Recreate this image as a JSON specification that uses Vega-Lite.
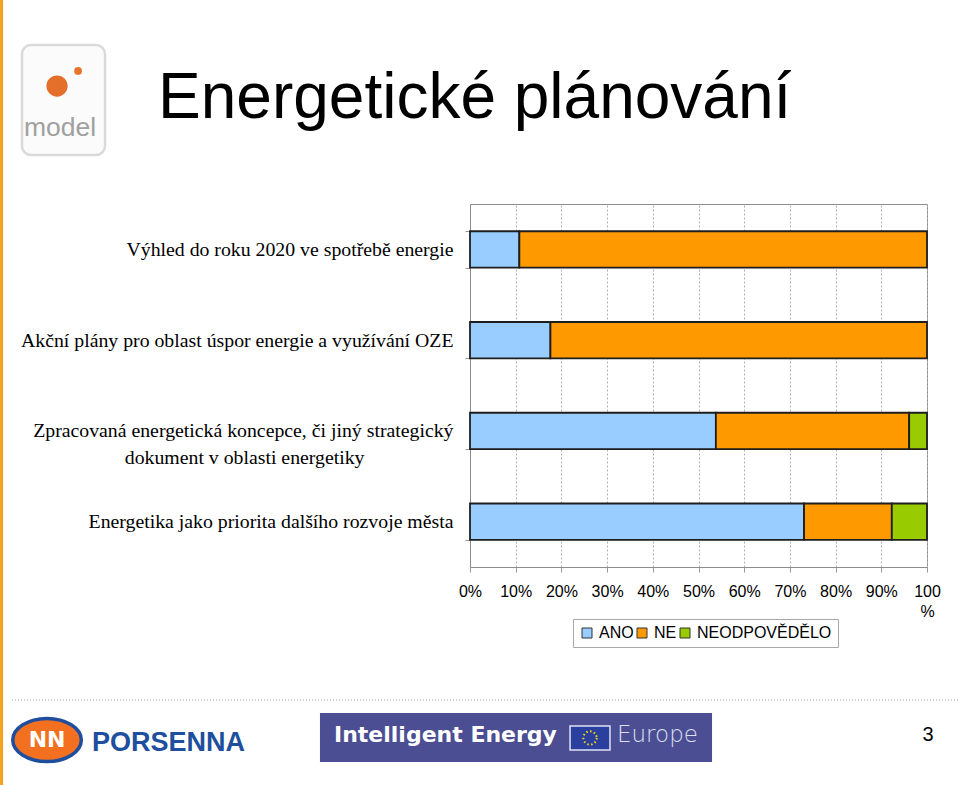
{
  "$schema": "https://vega.github.io/schema/vega-lite/v6.json",
  "width": 457,
  "height": 363,
  "autosize": {"type": "none"},
  "padding": {"left": 470, "top": 204, "right": 33, "bottom": 218},
  "background": "white",
  "config": {"view": {"stroke": "#8c8c8c", "strokeWidth": 1}},
  "resolve": {"scale": {"x": "independent", "y": "independent"}, "axis": {"x": "independent", "y": "independent"}},
  "layer": [
    {
      "data": {
        "values": [
          {"kategorie": "Výhled do roku 2020 ve spotřebě energie", "odpoved": "ANO", "podil": 10.8},
          {"kategorie": "Výhled do roku 2020 ve spotřebě energie", "odpoved": "NE", "podil": 89.2},
          {"kategorie": "Akční plány pro oblast úspor energie a využívání OZE", "odpoved": "ANO", "podil": 17.6},
          {"kategorie": "Akční plány pro oblast úspor energie a využívání OZE", "odpoved": "NE", "podil": 82.4},
          {"kategorie": "Zpracovaná energetická koncepce, či jiný strategický dokument v oblasti energetiky", "odpoved": "ANO", "podil": 53.8},
          {"kategorie": "Zpracovaná energetická koncepce, či jiný strategický dokument v oblasti energetiky", "odpoved": "NE", "podil": 42.3},
          {"kategorie": "Zpracovaná energetická koncepce, či jiný strategický dokument v oblasti energetiky", "odpoved": "NEODPOVĚDĚLO", "podil": 3.9},
          {"kategorie": "Energetika jako priorita dalšího rozvoje města", "odpoved": "ANO", "podil": 73.1},
          {"kategorie": "Energetika jako priorita dalšího rozvoje města", "odpoved": "NE", "podil": 19.2},
          {"kategorie": "Energetika jako priorita dalšího rozvoje města", "odpoved": "NEODPOVĚDĚLO", "podil": 7.7}
        ]
      },
      "mark": {"type": "bar", "stroke": "#1e1e1e", "strokeWidth": 1.8},
      "encoding": {
        "y": {
          "field": "kategorie",
          "type": "nominal",
          "sort": [
            "Výhled do roku 2020 ve spotřebě energie",
            "Akční plány pro oblast úspor energie a využívání OZE",
            "Zpracovaná energetická koncepce, či jiný strategický dokument v oblasti energetiky",
            "Energetika jako priorita dalšího rozvoje města"
          ],
          "scale": {"paddingInner": 0.6, "paddingOuter": 0.3},
          "axis": {
            "title": null,
            "labelFont": "Liberation Serif",
            "labelFontSize": 19.8,
            "labelColor": "#000000",
            "labelLimit": 0,
            "labelPadding": 12,
            "labelLineHeight": 27,
            "tickBand": "extent",
            "tickSize": 5,
            "tickColor": "#9a9a9a",
            "domainColor": "#8c8c8c",
            "grid": false,
            "labelExpr": "datum.label == 'Zpracovaná energetická koncepce, či jiný strategický dokument v oblasti energetiky' ? ['Zpracovaná energetická koncepce, či jiný strategický', 'dokument v oblasti energetiky\u00a0\u00a0\u00a0\u00a0\u00a0\u00a0\u00a0\u00a0\u00a0\u00a0\u00a0\u00a0\u00a0\u00a0\u00a0\u00a0\u00a0\u00a0\u200b'] : datum.label"
          }
        },
        "x": {
          "field": "podil",
          "type": "quantitative",
          "stack": "zero",
          "scale": {"domain": [0, 100], "nice": false},
          "axis": {
            "title": null,
            "values": [0, 10, 20, 30, 40, 50, 60, 70, 80, 90, 100],
            "labelExpr": "datum.value == 100 ? ['100', '%'] : datum.value + '%'",
            "labelFont": "Liberation Sans",
            "labelFontSize": 16,
            "labelColor": "#000000",
            "labelPadding": 11,
            "labelLineHeight": 20,
            "labelFlush": false,
            "labelOverlap": false,
            "tickSize": 5,
            "tickColor": "#9a9a9a",
            "domainColor": "#8c8c8c",
            "grid": true,
            "gridColor": "#b0b0b0",
            "gridDash": [2, 2]
          }
        },
        "color": {
          "field": "odpoved",
          "type": "nominal",
          "scale": {"domain": ["ANO", "NE", "NEODPOVĚDĚLO"], "range": ["#99CCFF", "#FF9900", "#99CC00"]},
          "legend": {
            "title": null,
            "orient": "none",
            "legendX": 103,
            "legendY": 415,
            "direction": "horizontal",
            "padding": 6,
            "strokeColor": "#a8a8a8",
            "labelFont": "Liberation Sans",
            "labelFontSize": 16,
            "labelColor": "#000000",
            "labelOffset": 4,
            "columnPadding": 0,
            "symbolType": "square",
            "symbolSize": 100,
            "symbolStrokeColor": "#333333",
            "symbolStrokeWidth": 1
          }
        },
        "order": {"field": "odpoved", "type": "nominal"}
      }
    },
    {
      "data": {"values": [{}]},
      "layer": [
        {
          "mark": {"type": "rule", "stroke": "#f5a01a", "strokeWidth": 3},
          "encoding": {
            "x": {"datum": 0.16, "type": "quantitative", "scale": {"domain": [48.958, 96.5625], "nice": false, "zero": false}, "axis": null},
            "y": {"datum": 0, "type": "quantitative", "scale": {"domain": [25.987, 72.229], "nice": false, "zero": false, "reverse": true}, "axis": null},
            "y2": {"datum": 100}
          }
        },
        {
          "mark": {"type": "rect", "fill": "#fbfbfb", "stroke": "#dadada", "strokeWidth": 2.5, "cornerRadius": 9},
          "encoding": {
            "x": {"datum": 2.29, "type": "quantitative", "scale": {"domain": [48.958, 96.5625], "nice": false, "zero": false}, "axis": null},
            "x2": {"datum": 10.94},
            "y": {"datum": 5.73, "type": "quantitative", "scale": {"domain": [25.987, 72.229], "nice": false, "zero": false, "reverse": true}, "axis": null},
            "y2": {"datum": 19.75}
          }
        },
        {
          "mark": {"type": "point", "shape": "circle", "filled": true, "fill": "#e46f2a", "opacity": 1, "size": 450},
          "encoding": {
            "x": {"datum": 5.94, "type": "quantitative", "scale": {"domain": [48.958, 96.5625], "nice": false, "zero": false}, "axis": null},
            "y": {"datum": 10.96, "type": "quantitative", "scale": {"domain": [25.987, 72.229], "nice": false, "zero": false, "reverse": true}, "axis": null}
          }
        },
        {
          "mark": {"type": "point", "shape": "circle", "filled": true, "fill": "#e8742c", "opacity": 1, "size": 60},
          "encoding": {
            "x": {"datum": 8.13, "type": "quantitative", "scale": {"domain": [48.958, 96.5625], "nice": false, "zero": false}, "axis": null},
            "y": {"datum": 9.04, "type": "quantitative", "scale": {"domain": [25.987, 72.229], "nice": false, "zero": false, "reverse": true}, "axis": null}
          }
        },
        {
          "mark": {"type": "text", "align": "center", "baseline": "alphabetic", "font": "Liberation Sans", "fontSize": 26.5, "fill": "#a0a0a0"},
          "encoding": {
            "x": {"datum": 6.25, "type": "quantitative", "scale": {"domain": [48.958, 96.5625], "nice": false, "zero": false}, "axis": null},
            "y": {"datum": 17.32, "type": "quantitative", "scale": {"domain": [25.987, 72.229], "nice": false, "zero": false, "reverse": true}, "axis": null},
            "text": {"value": "model"}
          }
        },
        {
          "mark": {"type": "text", "align": "left", "baseline": "alphabetic", "font": "Liberation Sans", "fontSize": 64, "fill": "#000000"},
          "encoding": {
            "x": {"datum": 16.46, "type": "quantitative", "scale": {"domain": [48.958, 96.5625], "nice": false, "zero": false}, "axis": null},
            "y": {"datum": 15.03, "type": "quantitative", "scale": {"domain": [25.987, 72.229], "nice": false, "zero": false, "reverse": true}, "axis": null},
            "text": {"value": "Energetické plánování"}
          }
        },
        {
          "mark": {"type": "rule", "stroke": "#a0a0a0", "strokeWidth": 1, "strokeDash": [1, 2]},
          "encoding": {
            "x": {"datum": 1.25, "type": "quantitative", "scale": {"domain": [48.958, 96.5625], "nice": false, "zero": false}, "axis": null},
            "x2": {"datum": 100},
            "y": {"datum": 89.17, "type": "quantitative", "scale": {"domain": [25.987, 72.229], "nice": false, "zero": false, "reverse": true}, "axis": null}
          }
        },
        {
          "mark": {"type": "point", "shape": "M-1,0A1,0.63,0,1,0,1,0A1,0.63,0,1,0,-1,0Z", "filled": true, "fill": "#f37021", "stroke": "#1f4e9e", "strokeWidth": 3.5, "opacity": 1, "size": 4700},
          "encoding": {
            "x": {"datum": 4.9, "type": "quantitative", "scale": {"domain": [48.958, 96.5625], "nice": false, "zero": false}, "axis": null},
            "y": {"datum": 94.27, "type": "quantitative", "scale": {"domain": [25.987, 72.229], "nice": false, "zero": false, "reverse": true}, "axis": null}
          }
        },
        {
          "mark": {"type": "text", "align": "center", "baseline": "middle", "font": "DejaVu Sans", "fontSize": 22, "fontWeight": "bold", "fill": "#ffffff"},
          "encoding": {
            "x": {"datum": 4.9, "type": "quantitative", "scale": {"domain": [48.958, 96.5625], "nice": false, "zero": false}, "axis": null},
            "y": {"datum": 94.3, "type": "quantitative", "scale": {"domain": [25.987, 72.229], "nice": false, "zero": false, "reverse": true}, "axis": null},
            "text": {"value": "NN"}
          }
        },
        {
          "mark": {"type": "text", "align": "left", "baseline": "alphabetic", "font": "Liberation Sans", "fontSize": 27, "fontWeight": "bold", "fill": "#1d4f9e"},
          "encoding": {
            "x": {"datum": 9.58, "type": "quantitative", "scale": {"domain": [48.958, 96.5625], "nice": false, "zero": false}, "axis": null},
            "y": {"datum": 95.67, "type": "quantitative", "scale": {"domain": [25.987, 72.229], "nice": false, "zero": false, "reverse": true}, "axis": null},
            "text": {"value": "PORSENNA"}
          }
        },
        {
          "mark": {"type": "rect", "fill": "#4b4e93"},
          "encoding": {
            "x": {"datum": 33.33, "type": "quantitative", "scale": {"domain": [48.958, 96.5625], "nice": false, "zero": false}, "axis": null},
            "x2": {"datum": 74.17},
            "y": {"datum": 90.83, "type": "quantitative", "scale": {"domain": [25.987, 72.229], "nice": false, "zero": false, "reverse": true}, "axis": null},
            "y2": {"datum": 97.07}
          }
        },
        {
          "mark": {"type": "text", "align": "left", "baseline": "alphabetic", "font": "DejaVu Sans", "fontSize": 22, "fontWeight": "bold", "fill": "#ffffff"},
          "encoding": {
            "x": {"datum": 34.79, "type": "quantitative", "scale": {"domain": [48.958, 96.5625], "nice": false, "zero": false}, "axis": null},
            "y": {"datum": 94.52, "type": "quantitative", "scale": {"domain": [25.987, 72.229], "nice": false, "zero": false, "reverse": true}, "axis": null},
            "text": {"value": "Intelligent Energy"}
          }
        },
        {
          "mark": {"type": "rect", "fill": "#2a3f9e", "stroke": "#dfe3f5", "strokeWidth": 1.5},
          "encoding": {
            "x": {"datum": 59.38, "type": "quantitative", "scale": {"domain": [48.958, 96.5625], "nice": false, "zero": false}, "axis": null},
            "x2": {"datum": 63.54},
            "y": {"datum": 92.48, "type": "quantitative", "scale": {"domain": [25.987, 72.229], "nice": false, "zero": false, "reverse": true}, "axis": null},
            "y2": {"datum": 95.54}
          }
        },
        {
          "mark": {"type": "point", "shape": "circle", "filled": false, "stroke": "#f5d90a", "strokeWidth": 2, "strokeDash": [1.5, 2.4], "opacity": 1, "size": 177},
          "encoding": {
            "x": {"datum": 61.46, "type": "quantitative", "scale": {"domain": [48.958, 96.5625], "nice": false, "zero": false}, "axis": null},
            "y": {"datum": 94.01, "type": "quantitative", "scale": {"domain": [25.987, 72.229], "nice": false, "zero": false, "reverse": true}, "axis": null}
          }
        },
        {
          "mark": {"type": "text", "align": "left", "baseline": "alphabetic", "font": "DejaVu Sans", "fontSize": 23, "fontWeight": 200, "fill": "#dde0f2"},
          "encoding": {
            "x": {"datum": 64.27, "type": "quantitative", "scale": {"domain": [48.958, 96.5625], "nice": false, "zero": false}, "axis": null},
            "y": {"datum": 94.52, "type": "quantitative", "scale": {"domain": [25.987, 72.229], "nice": false, "zero": false, "reverse": true}, "axis": null},
            "text": {"value": "Europe"}
          }
        },
        {
          "mark": {"type": "text", "align": "center", "baseline": "alphabetic", "font": "Liberation Sans", "fontSize": 20, "fill": "#000000"},
          "encoding": {
            "x": {"datum": 96.67, "type": "quantitative", "scale": {"domain": [48.958, 96.5625], "nice": false, "zero": false}, "axis": null},
            "y": {"datum": 94.39, "type": "quantitative", "scale": {"domain": [25.987, 72.229], "nice": false, "zero": false, "reverse": true}, "axis": null},
            "text": {"value": "3"}
          }
        }
      ]
    }
  ]
}
